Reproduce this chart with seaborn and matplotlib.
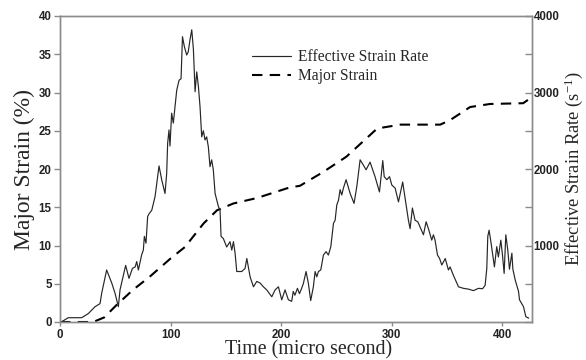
import matplotlib
matplotlib.use("Agg")
import matplotlib.pyplot as plt
import seaborn as sns
import pandas as pd
import numpy as np

# ---- data ----
rate_time = [0, 1.5, 7.5, 19.6, 25.6, 31.7, 36.2, 37.7, 42.2, 46.8, 49.8, 52.8, 54.3, 59.4, 62.4,
             65.5, 68, 69.4, 70.9, 73.9, 75.4, 76.3, 77.8, 79.3, 80.8, 83, 86, 89.6, 92, 95,
             96.5, 97.4, 98.6, 99.5, 101, 102.5, 104, 105.6, 107.7, 109.5, 110.8, 112.5, 114.6, 116,
             117.6, 119.2, 120.7, 122.2, 123.7, 125.2, 126.7, 128.2, 129.7, 131.2, 132.7, 134.2,
             135.7, 137.2, 138.7, 140.3, 143.3, 144.8, 145.7, 147.8, 150.8, 153.8, 155.4, 156.9,
             158.4, 159.9, 164.4, 167.4, 169, 172, 175, 178, 181, 184, 187, 191.6, 194.6, 197.6,
             200.6, 203.6, 206.6, 209.6, 211, 212.5, 214.8, 216.6, 218.6, 220.2, 222.6, 224.7,
             226.8, 229.2, 230.8, 232.3, 233.8, 235.9, 238.3, 240.7, 242.8, 245, 247.4, 248.9,
             250.4, 251.9, 253.4, 254.9, 256.4, 258.8, 262.5, 266, 268.5, 271.5, 274.5, 276.9,
             279, 280.5, 285, 289, 292, 293.3, 295.7, 298.1, 300.2, 303.2, 306.2, 310, 312.4,
             315.2, 316.7, 318.8, 321.2, 323.7, 325.8, 328.8, 331.2, 333.3, 336.3, 337.8, 339.3,
             341.5, 343.4, 345.4, 348.5, 351.4, 352.9, 355.9, 360.5, 365, 369.5, 374, 378.6,
             382.3, 384.6, 386.1, 387, 388.2, 390, 393, 395.1, 396.6, 398.8, 400.3, 401.8, 403.3,
             405.1, 406.6, 408.8, 409.7, 411.8, 414.8, 415.7, 419.3, 421.4, 424]
rate_value = [0, 4, 56, 56, 110, 200, 240, 375, 680, 510, 375, 200, 420, 740, 570,
              700, 720, 790, 680, 880, 940, 1120, 1030, 1380, 1420, 1460, 1640, 2040, 1860, 1680,
              1940, 2340, 2510, 2300, 2730, 2600, 2810, 3030, 3160, 3180, 3730, 3600, 3490, 3530,
              3690, 3820, 3560, 3010, 3270, 3080, 2810, 2420, 2500, 2380, 2420, 2290,
              2030, 2120, 1990, 1680, 1510, 1460, 1120, 1090, 980, 1050, 940, 1050,
              900, 660, 660, 700, 830, 590, 460, 530, 510, 460, 420, 330, 420, 460,
              290, 420, 290, 270, 400, 350, 440, 370, 440, 505, 660, 505,
              280, 460, 660, 590, 660, 680, 875, 920, 875, 985, 1290, 1330,
              1530, 1590, 1730, 1660, 1750, 1860, 1680, 1550, 1770, 2120, 2050, 1990,
              2050, 2090, 1900, 1700, 2110, 1900, 1860, 1900, 1790, 1750, 1570, 1830, 1600,
              1330, 1220, 1490, 1330, 1310, 1240, 1140, 1310, 1220, 1070, 1140, 1070,
              875, 830, 745, 830, 680, 720, 610, 460, 440, 430, 410, 440,
              435, 480, 700, 1120, 1200, 1030, 720, 985, 850, 1070, 875, 635, 1140,
              940, 690, 900, 690, 550, 400, 290, 200, 70, 50]

strain_time = [0, 30, 40, 51, 66, 81, 100, 113, 130, 142, 157, 178, 208, 217, 238, 259, 287,
               308, 344, 353, 371, 389, 419, 425]
strain_value = [0, 0, 0.6, 2.2, 4.2, 5.9, 8.3, 9.8, 12.9, 14.6, 15.5, 16.2, 17.6, 17.8, 19.6,
                21.6, 25.3, 25.8, 25.8, 26.4, 28.1, 28.5, 28.6, 29.2]

legend_labels = ["Effective Strain Rate", "Major Strain"]

# ---- plot ----
sns.set_style("white")
plt.rcParams["font.family"] = ["Liberation Serif", "DejaVu Serif"]
plt.rcParams["mathtext.fontset"] = "custom"
plt.rcParams["mathtext.rm"] = "Liberation Serif"
plt.rcParams["mathtext.default"] = "rm"

df_rate = pd.DataFrame({"t": rate_time, "r": rate_value})
df_strain = pd.DataFrame({"t": strain_time, "s": strain_value})

fig = plt.figure(figsize=(5.86, 3.60), dpi=100)
ax = fig.add_axes([60 / 586, 1 - 322 / 360, (532 - 60) / 586, (322 - 16) / 360])
ax2 = ax.twinx()

sns.lineplot(data=df_strain, x="t", y="s", ax=ax, color="black", linewidth=1.5,
             linestyle=(0, (5, 3.5)), legend=False)
sns.lineplot(data=df_rate, x="t", y="r", ax=ax2, color="#262626", linewidth=0.85,
             legend=False)

ax.set_xlim(0, 427)
ax.set_ylim(0, 40)
ax2.set_ylim(0, 4000)

spine_col = "#8c8c8c"
for a in (ax, ax2):
    for s in a.spines.values():
        s.set_color(spine_col)
        s.set_linewidth(1.0)

tickfont = dict(family="Liberation Sans", weight="bold", size=8.3)
ax.set_xticks([0, 100, 200, 300, 400])
ax.set_xticklabels(["0", "100", "200", "300", "400"], fontdict=tickfont, color="#222222")
ax.set_yticks(range(0, 41, 5))
ax.set_yticklabels([str(v) for v in range(0, 41, 5)], fontdict=tickfont, color="#222222")
ax.tick_params(axis="both", direction="out", length=4, width=1, color=spine_col, pad=2)
ax.tick_params(axis="x", bottom=True, length=3)
ax.tick_params(axis="y", left=True)

ax2.set_yticks(range(0, 4001, 500))
ax2.set_yticklabels(["" if (v % 1000 or v == 0) else str(v) for v in range(0, 4001, 500)],
                    fontdict=tickfont, color="#222222")
ax2.tick_params(axis="y", right=True, direction="in", length=5, width=1, color=spine_col, pad=1.0)

ax.set_xlabel("Time (micro second)", fontsize=14.4)
ax.xaxis.set_label_coords(0.527, -0.058)
ax.set_ylabel("Major Strain (%)", fontsize=17)
ax.yaxis.set_label_coords(-0.054, 0.5)
ax2.set_ylabel("Effective Strain Rate (s$^{-1}$)", fontsize=13.3)
ax2.yaxis.set_label_coords(1.064, 0.5)

h1 = ax2.get_lines()[0]
h2 = ax.get_lines()[0]
leg = fig.legend([h1, h2], legend_labels, loc="upper left",
                 bbox_to_anchor=(252 / 586, 1 - 49 / 360), frameon=False, fontsize=11.2,
                 handlelength=2.5, handletextpad=0.45, labelspacing=0.2,
                 borderpad=0, borderaxespad=0)

fig.savefig("out.png", dpi=100)
